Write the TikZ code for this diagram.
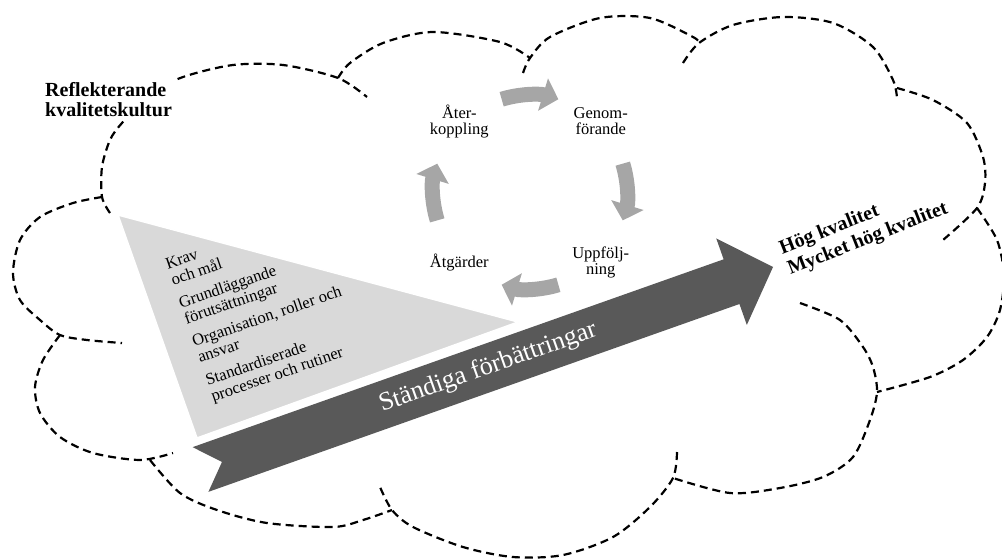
\documentclass[tikz,border=0pt]{standalone}
\usepackage{fontspec}
\setmainfont{Liberation Serif}
\usepackage{xcolor}
\usepackage{tikz}
\usetikzlibrary{arrows.meta}

\definecolor{arrowgray}{HTML}{595959}
\definecolor{cyclegray}{HTML}{A6A6A6}
\definecolor{trianglegray}{HTML}{D9D9D9}

\tikzset{
    cloudline/.style={line width=2.2pt, dash pattern=on 8pt off 5pt, line cap=butt},
    cyclearrow/.style={draw=cyclegray, line width=15pt, -{Triangle[width=33pt,length=16pt]}},
    cyclelabel/.style={align=center, inner sep=0pt, font=\fontsize{16.5}{15.5}\selectfont},
    boldlabel/.style={align=left, inner sep=0pt, font=\fontsize{20}{20.5}\selectfont\bfseries},
    baselabel/.style={align=left, inner sep=0pt, font=\fontsize{16.5}{17}\selectfont}
}

\begin{document}
\begin{tikzpicture}[x=1pt, y=1pt, yscale=-1]
        \clip (0,0) rectangle (1002,558);

        %MOLN
        \draw[cloudline] plot[smooth] coordinates {(110,213) (102,197) (102,167) (110,140) (122,123) (150,94) (183,77) (233,65) (283,65) (338,78) (367,97)};
        \draw[cloudline] plot[smooth] coordinates {(338,78) (350,63) (383,43) (433,32) (500,42) (530,58)};
        \draw[cloudline] plot[smooth] coordinates {(523,73) (530,58) (550,37) (600,18) (650,18) (693,37) (699,43)};
        \draw[cloudline] plot[smooth] coordinates {(683,63) (699,43) (733,25) (783,17) (833,23) (873,47) (893,80) (897,98)};
        \draw[cloudline] plot[smooth] coordinates {(897,88) (933,100) (967,123) (983,157) (985,183) (977,208) (943,240)};
        \draw[cloudline] plot[smooth] coordinates {(977,208) (997,240) (1004,275) (1000,310) (987,337) (963,360) (930,377) (877,392)};
        \draw[cloudline] plot[smooth] coordinates {(800,303) (840,320) (863,347) (873,367) (877,392) (870,420) (853,457) (823,477) (780,488) (730,493) (673,478)};
        \draw[cloudline] plot[smooth] coordinates {(677,452) (673,478) (650,507) (613,537) (563,555) (513,557) (463,547) (413,527) (392,510) (380,487)};
        \draw[cloudline] plot[smooth] coordinates {(150,460) (180,493) (217,510) (267,523) (333,527) (363,520) (392,510)};
        \draw[cloudline] plot[smooth] coordinates {(60,335) (43,360) (35,387) (40,413) (60,437) (93,453) (140,460) (173,453)};
        \draw[cloudline] plot[smooth] coordinates {(102,197) (73,203) (40,217) (20,240) (13,273) (20,300) (40,320) (60,335) (87,340) (122,343)};

        %TRIANGEL
        \filldraw[fill=trianglegray, draw=white, line width=1.5pt] (118,215) -- (518,322) -- (197,438) -- cycle;
        \node[baselabel, rotate=19, anchor=north west] (grund) at (164,259)
            {Krav\\och mål\\[7pt]Grundläggande\\förutsättningar\\[7pt]Organisation, roller och\\ansvar\\[7pt]Standardiserade\\processer och rutiner};

        %PIL
        \begin{scope}[shift={(200.5,469.5)}, rotate=-19.48]
            \fill[arrowgray] (0,-23.7) -- (563.3,-23.7) -- (563.3,-45.9) -- (607.3,0)
                -- (563.3,45.9) -- (563.3,23.7) -- (0,23.7) -- (22.8,0) -- cycle;
            \node[rotate=19.48, text=white, inner sep=0pt, font=\fontsize{26}{26}\selectfont] (forbattring) at (305,0) {Ständiga förbättringar};
        \end{scope}

        %CYKEL
        \coordinate (cyc) at (530,192);
        \draw[cyclearrow] ([shift={(-107:97)}]cyc) arc[start angle=-107, end angle=-73, radius=97];
        \draw[cyclearrow] ([shift={(-17:97)}]cyc) arc[start angle=-17, end angle=17, radius=97];
        \draw[cyclearrow] ([shift={(73:97)}]cyc) arc[start angle=73, end angle=107, radius=97];
        \draw[cyclearrow] ([shift={(163:97)}]cyc) arc[start angle=163, end angle=197, radius=97];
        \node[cyclelabel] (aterkoppling) at ([shift={(225:100)}]cyc) {Åter-\\koppling};
        \node[cyclelabel] (genomforande) at ([shift={(315:100)}]cyc) {Genom-\\förande};
        \node[cyclelabel] (uppfoljning) at ([shift={(45:100)}]cyc) {Uppfölj-\\ning};
        \node[cyclelabel] (atgarder) at ([shift={(135:100)}]cyc) {Åtgärder};

        %TEXT
        \node[boldlabel, fill=white, inner sep=3pt, anchor=north west] (kultur) at (42,79) {Reflekterande\\kvalitetskultur};
        \node[boldlabel, rotate=21.5, anchor=north west, font=\fontsize{20}{22.5}\selectfont\bfseries] (kvalitet) at (777,241) {Hög kvalitet\\Mycket hög kvalitet};
    \end{tikzpicture}
\end{document}
